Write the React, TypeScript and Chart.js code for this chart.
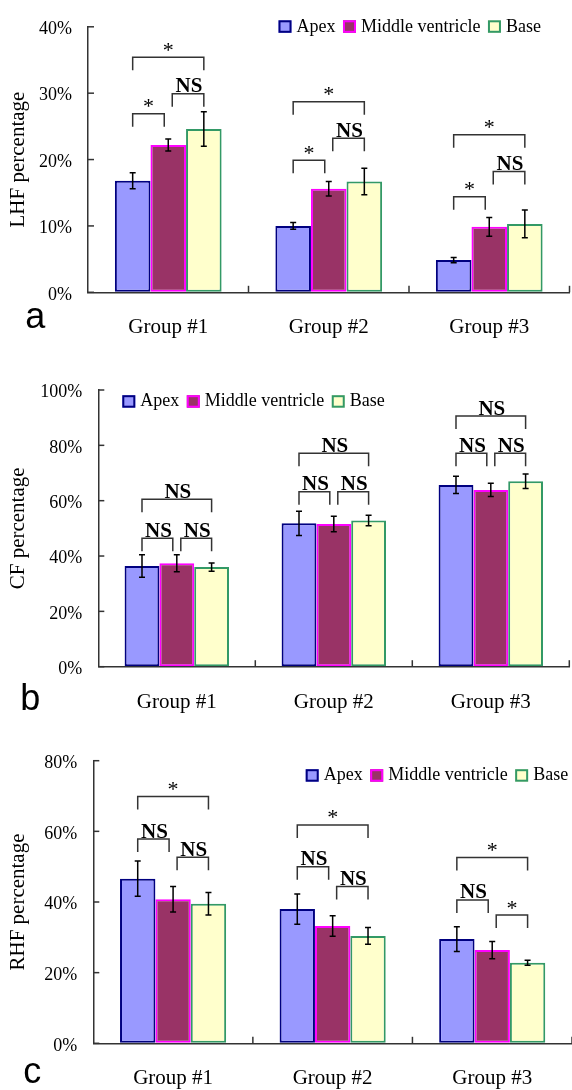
import React, { useEffect, useRef } from 'react';
import { Chart, registerables } from 'chart.js';

Chart.register(...registerables);

// ---------- data ----------
const groups = ['Group #1', 'Group #2', 'Group #3'];
const seriesNames = ['Apex', 'Middle ventricle', 'Base'];

// Panel a: LHF percentage
const lhfApex = [16.8, 10.0, 4.85];
const lhfMiddle = [22.2, 15.6, 9.86];
const lhfBase = [24.6, 16.7, 10.3];
const lhfApexErr = [1.2, 0.5, 0.4];
const lhfMiddleErr = [0.9, 1.1, 1.4];
const lhfBaseErr = [2.6, 2.0, 2.1];
// [group, fromBar, toBar, level (%), label]
const lhfBrackets: [number, number, number, number, string][] = [
  [0, 0, 1, 26.9, '*'], [0, 1, 2, 29.9, 'NS'], [0, 0, 2, 35.4, '*'],
  [1, 0, 1, 19.9, '*'], [1, 1, 2, 23.2, 'NS'], [1, 0, 2, 28.7, '*'],
  [2, 0, 1, 14.4, '*'], [2, 1, 2, 18.2, 'NS'], [2, 0, 2, 23.75, '*'],
];

// Panel b: CF percentage
const cfApex = [36.4, 51.8, 65.7];
const cfMiddle = [37.4, 51.6, 63.9];
const cfBase = [36.0, 52.8, 67.0];
const cfApexErr = [4.1, 4.4, 3.1];
const cfMiddleErr = [3.1, 2.8, 2.4];
const cfBaseErr = [1.5, 1.9, 2.6];
const cfBrackets: [number, number, number, number, string][] = [
  [0, 0, 1, 46.4, 'NS'], [0, 1, 2, 46.4, 'NS'], [0, 0, 2, 60.5, 'NS'],
  [1, 0, 1, 63.2, 'NS'], [1, 1, 2, 63.2, 'NS'], [1, 0, 2, 77.1, 'NS'],
  [2, 0, 1, 77.1, 'NS'], [2, 1, 2, 77.1, 'NS'], [2, 0, 2, 90.6, 'NS'],
];

// Panel c: RHF percentage
const rhfApex = [46.6, 38.0, 29.5];
const rhfMiddle = [40.8, 33.2, 26.4];
const rhfBase = [39.5, 30.4, 22.8];
const rhfApexErr = [5.0, 4.3, 3.5];
const rhfMiddleErr = [3.6, 2.9, 2.45];
const rhfBaseErr = [3.2, 2.35, 0.7];
const rhfBrackets: [number, number, number, number, string][] = [
  [0, 0, 1, 57.8, 'NS'], [0, 1, 2, 52.7, 'NS'], [0, 0, 2, 69.9, '*'],
  [1, 0, 1, 50.0, 'NS'], [1, 1, 2, 44.4, 'NS'], [1, 0, 2, 61.8, '*'],
  [2, 0, 1, 40.6, 'NS'], [2, 1, 2, 36.3, '*'], [2, 0, 2, 52.6, '*'],
];

// ---------- styles ----------
const SERIF = "'Liberation Serif', 'Times New Roman', serif";
const SANS = "'Liberation Sans', Arial, sans-serif";
const fills = ['#9999FF', '#993366', '#FFFFCC'];
const borders = ['#000080', '#FF00FF', '#339966'];
const AXIS = '#333333';
const BRACKET = '#333333';

interface Panel {
  values: number[][];
  errors: number[][];
  brackets: [number, number, number, number, string][];
  yMax: number;
  yStep: number;
  yTitle: string;
  letter: string;
  top: number;
  height: number;
  padTop: number;
  padRight: number;
  yWidth: number;
  xHeight: number;
  legendX: number;
  legendY: number;
  letterX: number;
  letterY: number;
}

const panels: Panel[] = [
  {
    values: [lhfApex, lhfMiddle, lhfBase],
    errors: [lhfApexErr, lhfMiddleErr, lhfBaseErr],
    brackets: lhfBrackets,
    yMax: 40, yStep: 10, yTitle: 'LHF percentage', letter: 'a',
    top: 0, height: 345, padTop: 15, padRight: 2.5, yWidth: 88, xHeight: 52.7,
    legendX: 278.5, legendY: 26.3, letterX: 25.3, letterY: 328.3,
  },
  {
    values: [cfApex, cfMiddle, cfBase],
    errors: [cfApexErr, cfMiddleErr, cfBaseErr],
    brackets: cfBrackets,
    yMax: 100, yStep: 20, yTitle: 'CF percentage', letter: 'b',
    top: 345, height: 372, padTop: 45, padRight: 2.7, yWidth: 98.3, xHeight: 50.3,
    legendX: 122.3, legendY: 56.2, letterX: 20.2, letterY: 365,
  },
  {
    values: [rhfApex, rhfMiddle, rhfBase],
    errors: [rhfApexErr, rhfMiddleErr, rhfBaseErr],
    brackets: rhfBrackets,
    yMax: 80, yStep: 20, yTitle: 'RHF percentage', letter: 'c',
    top: 717, height: 373, padTop: 43.7, padRight: 0, yWidth: 93.3, xHeight: 46.7,
    legendX: 305.7, legendY: 58.2, letterX: 23.2, letterY: 365.5,
  },
];

function makePlugin(p: Panel) {
  return {
    id: 'panelDecor',
    afterDatasetsDraw(chart: any) {
      const ctx: CanvasRenderingContext2D = chart.ctx;
      const ys = chart.scales.y;
      ctx.save();
      ctx.strokeStyle = '#000';
      ctx.lineWidth = 1.5;
      p.values.forEach((vals, di) => {
        const meta = chart.getDatasetMeta(di);
        meta.data.forEach((bar: any, i: number) => {
          const x = bar.x;
          const e = p.errors[di][i];
          const y1 = ys.getPixelForValue(vals[i] + e);
          const y2 = ys.getPixelForValue(vals[i] - e);
          ctx.beginPath();
          ctx.moveTo(x, y1); ctx.lineTo(x, y2);
          ctx.moveTo(x - 3, y1); ctx.lineTo(x + 3, y1);
          ctx.moveTo(x - 3, y2); ctx.lineTo(x + 3, y2);
          ctx.stroke();
        });
      });
      ctx.restore();
    },
    afterDraw(chart: any) {
      const ctx: CanvasRenderingContext2D = chart.ctx;
      const xs = chart.scales.x;
      const ys = chart.scales.y;
      const area = chart.chartArea;
      ctx.save();
      // inward tick marks
      ctx.strokeStyle = AXIS;
      ctx.lineWidth = 1.5;
      ys.ticks.forEach((_t: any, i: number) => {
        const py = ys.getPixelForTick(i);
        ctx.beginPath(); ctx.moveTo(area.left, py); ctx.lineTo(area.left + 6, py); ctx.stroke();
      });
      const n = groups.length;
      for (let i = 1; i <= n; i++) {
        const px = i < n ? (xs.getPixelForValue(i - 1) + xs.getPixelForValue(i)) / 2 : xs.right;
        ctx.beginPath(); ctx.moveTo(px, area.bottom); ctx.lineTo(px, area.bottom - 6.5); ctx.stroke();
      }
      // brackets
      p.brackets.forEach(([g, a, b, level, label]) => {
        const ca = chart.getDatasetMeta(a).data[g].x;
        const cb = chart.getDatasetMeta(b).data[g].x;
        let x1 = ca, x2 = cb;
        if (a === 0 && b === 1) x2 = cb - 4;
        if (a === 1 && b === 2) x1 = ca + 4;
        const yt = ys.getPixelForValue(level);
        ctx.strokeStyle = BRACKET;
        ctx.lineWidth = 1.5;
        ctx.beginPath();
        ctx.moveTo(x1, yt + 13); ctx.lineTo(x1, yt); ctx.lineTo(x2, yt); ctx.lineTo(x2, yt + 13);
        ctx.stroke();
        ctx.fillStyle = '#000';
        ctx.textAlign = 'center';
        ctx.textBaseline = 'alphabetic';
        if (label === 'NS') {
          ctx.font = `bold 21px ${SERIF}`;
          ctx.fillText(label, (x1 + x2) / 2 + 1, yt - 1.5);
        } else {
          ctx.font = `22px ${SERIF}`;
          ctx.fillText(label, (x1 + x2) / 2, yt - 0.5);
        }
      });
      // legend
      ctx.font = `18px ${SERIF}`;
      ctx.textAlign = 'left';
      ctx.textBaseline = 'middle';
      let lx = p.legendX;
      seriesNames.forEach((name, i) => {
        ctx.fillStyle = fills[i];
        ctx.fillRect(lx, p.legendY - 6, 13, 12.5);
        ctx.strokeStyle = borders[i];
        ctx.lineWidth = 2;
        ctx.strokeRect(lx + 1, p.legendY - 5, 11, 10.5);
        ctx.fillStyle = '#000';
        ctx.fillText(name, lx + 18, p.legendY + 0.5);
        lx += 18 + ctx.measureText(name).width + 7.5;
      });
      // panel letter
      ctx.font = `36px ${SANS}`;
      ctx.textBaseline = 'alphabetic';
      ctx.fillStyle = '#000';
      ctx.fillText(p.letter, p.letterX, p.letterY);
      ctx.restore();
    },
  };
}

function PanelChart({ p }: { p: Panel }) {
  const ref = useRef<HTMLCanvasElement | null>(null);
  useEffect(() => {
    if (!ref.current) return;
    const chart = new Chart(ref.current, {
      type: 'bar',
      data: {
        labels: groups,
        datasets: seriesNames.map((name, i) => ({
          label: name,
          data: p.values[i],
          backgroundColor: fills[i],
          borderColor: borders[i],
          borderWidth: 2,
          borderSkipped: false,
          barPercentage: 1.0,
          categoryPercentage: 0.665,
        })),
      },
      options: {
        responsive: false,
        maintainAspectRatio: false,
        devicePixelRatio: 1,
        animation: false,
        events: [],
        layout: { padding: { top: p.padTop, right: p.padRight, left: 0, bottom: 0 } },
        plugins: { legend: { display: false }, tooltip: { enabled: false }, title: { display: false } },
        scales: {
          x: {
            grid: { display: true, drawOnChartArea: false, drawTicks: false },
            border: { display: true, color: AXIS, width: 1.5 },
            ticks: { color: '#000', font: { family: SERIF, size: 21 }, padding: 23, maxRotation: 0 },
            afterFit: (s: any) => { s.height = p.xHeight; },
          },
          y: {
            min: 0,
            max: p.yMax,
            grid: { display: true, drawOnChartArea: false, drawTicks: false },
            border: { display: true, color: AXIS, width: 1.5 },
            ticks: {
              stepSize: p.yStep,
              color: '#000',
              font: { family: SERIF, size: 18 },
              padding: 16,
              labelOffset: 2.5,
              callback: (v: any) => `${v}%`,
            },
            title: {
              display: true,
              text: p.yTitle,
              color: '#000',
              font: { family: SERIF, size: 21, weight: 'normal' },
              padding: { top: 6, bottom: 0 },
            },
            afterFit: (s: any) => { s.width = p.yWidth; },
          },
        },
      },
      plugins: [makePlugin(p)],
    } as any);
    return () => chart.destroy();
  }, [p]);
  return (
    <canvas
      ref={ref}
      width={572}
      height={p.height}
      style={{ position: 'absolute', left: 0, top: p.top, width: 572, height: p.height, display: 'block' }}
    />
  );
}

export default function App() {
  return (
    <div style={{ position: 'absolute', left: 0, top: 0, width: 572, height: 1090, background: '#fff' }}>
      {panels.map((p, i) => (
        <PanelChart key={i} p={p} />
      ))}
    </div>
  );
}
